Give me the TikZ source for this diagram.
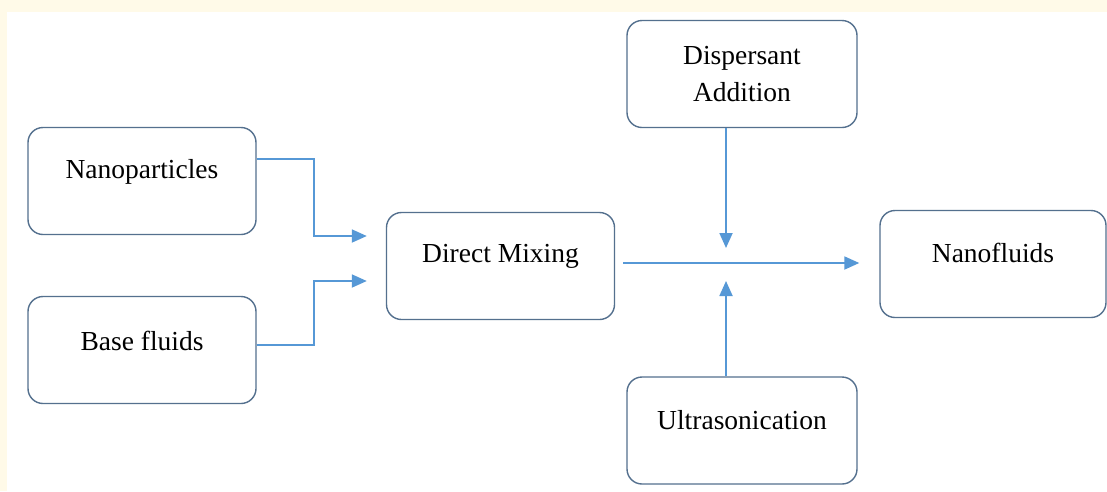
\documentclass[tikz,border=0pt]{standalone}
\usepackage{fontspec}
\setmainfont{Liberation Serif}
\newfontfamily\tms{Liberation Serif}
\usetikzlibrary{arrows.meta,calc}
\definecolor{cream}{RGB}{255,250,232}
\definecolor{boxline}{RGB}{84,112,142}
\definecolor{arrowblue}{RGB}{86,152,214}
\tikzset{
  box/.style={draw=boxline, line width=1.4pt, rounded corners=15pt, fill=white,
    minimum width=228pt, minimum height=107pt, inner sep=0pt},
  lbl/.style={font=\tms\fontsize{27.5}{37}\selectfont, text=black, align=center, inner sep=0pt},
  arr/.style={draw=arrowblue, line width=1.8pt, -{Triangle[length=15pt,width=13pt]}}
}
\begin{document}
\begin{tikzpicture}[x=1pt,y=-1pt]
\useasboundingbox (0,0) rectangle (1107,491);
\fill[cream] (0,0) rectangle (1107,491);
\fill[white] (7,12) rectangle (1107,491);

\node[box] (np) at (142,181) {};
\node[lbl] (npt) at ($(np.center)+(0,-9)$) {Nanoparticles};
\node[box] (bf) at (142,350) {};
\node[lbl] (bft) at ($(bf.center)+(0,-9)$) {Base fluids};
\node[box] (dm) at (500.5,266) {};
\node[lbl] (dmt) at ($(dm.center)+(0,-10)$) {Direct Mixing};
\node[box, minimum width=230pt] (da) at (742,74) {};
\node[lbl] (dat) at ($(da.center)+(0,0)$) {Dispersant\\Addition};
\node[box, minimum width=226pt] (nf) at (993,264) {};
\node[lbl] (nft) at ($(nf.center)+(0,-11)$) {Nanofluids};
\node[box, minimum width=230pt] (us) at (742,430.5) {};
\node[lbl] (ust) at ($(us.center)+(0,-10)$) {Ultrasonication};

\coordinate (mid) at (726,263);

\draw[arr] ([yshift=22pt]np.east) -- ++(57,0) |- ([xshift=-19pt,yshift=30pt]dm.west);
\draw[arr] ([yshift=5pt]bf.east) -- ++(57,0) |- ([xshift=-19pt,yshift=-15pt]dm.west);
\draw[arr] ($(dm.east |- mid)+(8,0)$) -- ($(nf.west |- mid)+(-20,0)$);
\draw[arr] (da.south -| mid) -- ($(mid)+(0,-15)$);
\draw[arr] (us.north -| mid) -- ($(mid)+(0,18)$);
\end{tikzpicture}
\end{document}
